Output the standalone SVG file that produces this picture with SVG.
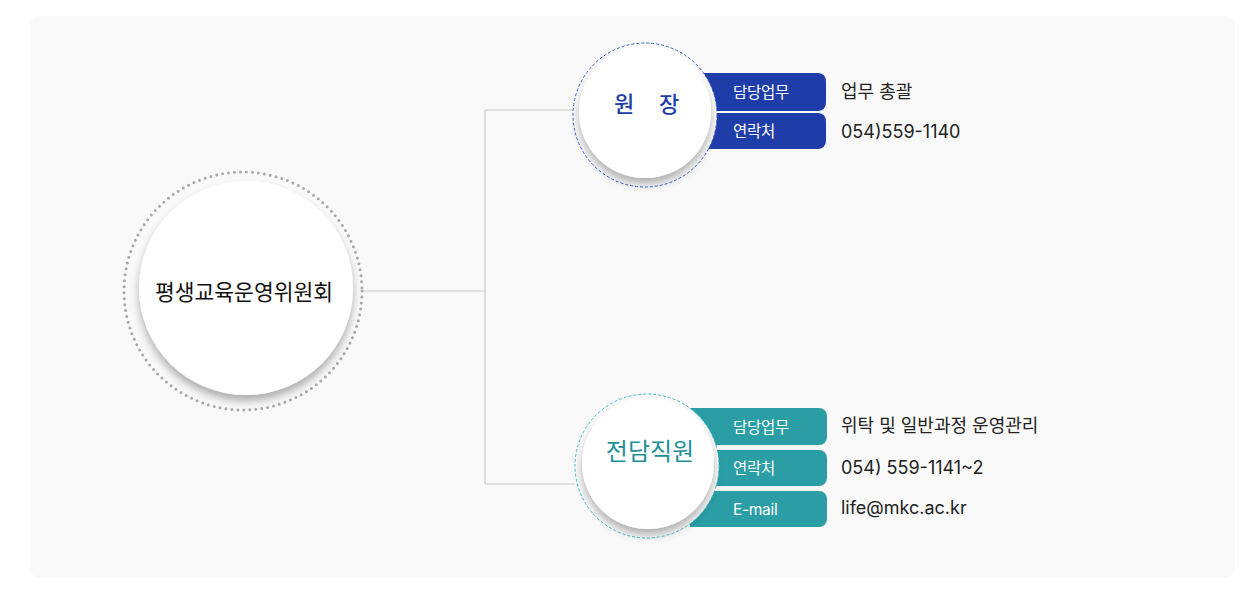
<svg xmlns="http://www.w3.org/2000/svg" width="1260" height="600" viewBox="0 0 1260 600">
<defs>
<filter id="sh" x="-30%" y="-30%" width="160%" height="170%">
<feDropShadow dx="0" dy="6" stdDeviation="4" flood-color="#000" flood-opacity="0.3"/>
</filter>
<style>
.t{font-family:"Noto Sans CJK KR","Noto Sans",sans-serif}
.lab{font-family:"Inter","Noto Sans CJK KR",sans-serif;font-size:15.5px;fill:#fff;letter-spacing:-0.3px}
.val{font-family:"Inter","Noto Sans CJK KR",sans-serif;font-size:18px;fill:#222}
.conn{stroke:#c8c8c8;stroke-width:1.2;fill:none}
.blue{fill:#1e3da8}
.teal{fill:#2a9da5}
.ring{fill:#fcfcfc;stroke-width:1;stroke-dasharray:3 2}
</style>
</defs>
<rect x="30" y="16" width="1205" height="562" rx="10" fill="#f9f9f9"/>
<g id="connectors">
<path class="conn" d="M363 291 H485 M485 110 V484 M485 110 H573 M485 484 H575"/>
</g>
<g id="node-committee">
<circle cx="243" cy="291" r="119" fill="none" stroke="#a8a8a8" stroke-width="3" stroke-dasharray="0 6" stroke-linecap="round"/>
<circle cx="246" cy="288" r="107" fill="#fff" filter="url(#sh)"/>
<text class="t" x="244" y="300" font-size="21.5" text-anchor="middle" fill="#111">평생교육운영위원회</text>
</g>
<g id="node-director">
<path class="blue" d="M690 73 H818 A8 8 0 0 1 826 81 V103 A8 8 0 0 1 818 111 H690 Z"/>
<path class="blue" d="M690 113 H818 A8 8 0 0 1 826 121 V141 A8 8 0 0 1 818 149 H690 Z"/>
<circle class="ring" cx="645" cy="115" r="72" stroke="#3d5fd0"/>
<circle cx="645" cy="112" r="66" fill="#fff" filter="url(#sh)"/>
<text class="t" font-size="22" text-anchor="middle" fill="#1e3da8" font-weight="500"><tspan x="624" y="112">원</tspan><tspan x="646" y="112"> </tspan><tspan x="669" y="112">장</tspan></text>
<text class="lab" x="733" y="98">담당업무</text>
<text class="lab" x="733" y="137">연락처</text>
<text class="val" x="841" y="98">업무 총괄</text>
<text class="val" x="841" y="138">054)559-1140</text>
</g>
<g id="node-staff">
<path class="teal" d="M690 408 H819 A8 8 0 0 1 827 416 V437 A8 8 0 0 1 819 445 H690 Z"/>
<path class="teal" d="M690 450 H819 A8 8 0 0 1 827 458 V478 A8 8 0 0 1 819 486 H690 Z"/>
<path class="teal" d="M690 491 H819 A8 8 0 0 1 827 499 V519 A8 8 0 0 1 819 527 H690 Z"/>
<circle class="ring" cx="647" cy="466" r="72" stroke="#3cc0c8"/>
<circle cx="648" cy="463" r="66" fill="#fff" filter="url(#sh)"/>
<text class="t" x="650" y="460" font-size="24" text-anchor="middle" fill="#1f8f96">전담직원</text>
<text class="lab" x="733" y="433">담당업무</text>
<text class="lab" x="733" y="474">연락처</text>
<text class="lab" x="733" y="515">E-mail</text>
<text class="val" x="841" y="432">위탁 및 일반과정 운영관리</text>
<text class="val" x="841" y="474">054) 559-1141~2</text>
<text class="val" x="841" y="514">life@mkc.ac.kr</text>
</g>
</svg>
